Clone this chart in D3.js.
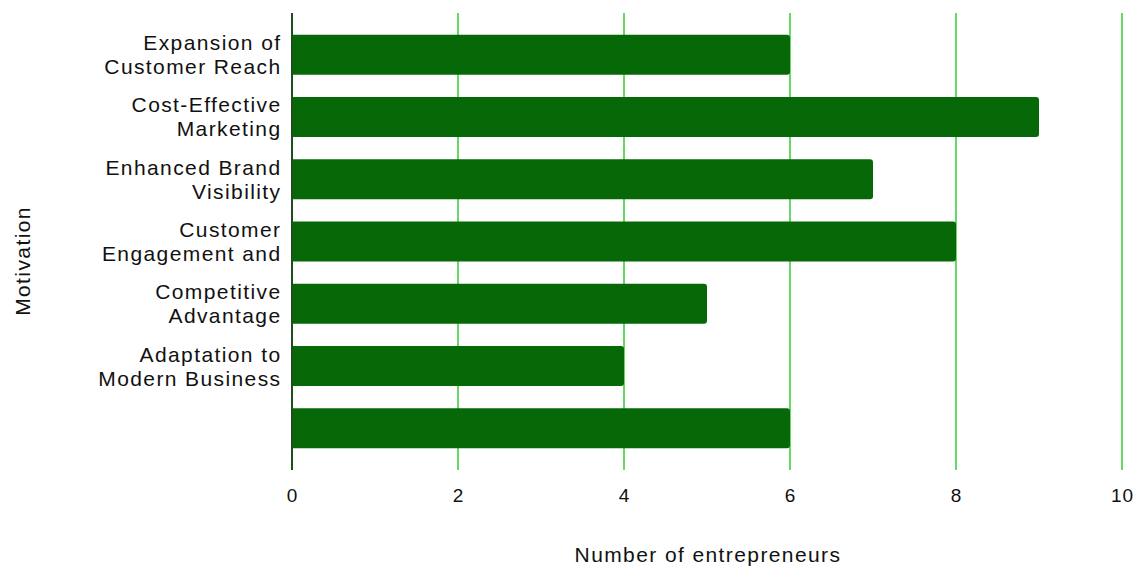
<!DOCTYPE html>
<html><head><meta charset="utf-8">
<script src="https://cdn.jsdelivr.net/npm/d3@7"></script>
<style>body{margin:0;background:#fff;} text{font-family:"Liberation Sans",Arial,sans-serif;}</style>
</head><body>
<svg id="c" width="1137" height="567"></svg>
<script>
const categories = [
  ["Expansion of", "Customer Reach"],
  ["Cost-Effective", "Marketing"],
  ["Enhanced Brand", "Visibility"],
  ["Customer", "Engagement and"],
  ["Competitive", "Advantage"],
  ["Adaptation to", "Modern Business"],
  [""]
];
const values = [6, 9, 7, 8, 5, 4, 6];
const xTicks = [0, 2, 4, 6, 8, 10];

const svg = d3.select("#c");
const m = {left: 292, right: 1122, top: 13, bottom: 470};
const x = d3.scaleLinear().domain([0, 10]).range([m.left, m.right]);
const y = d3.scaleBand().domain(d3.range(values.length)).range([m.top, m.bottom]).paddingInner(0.36).paddingOuter(0.35);
const LS = "1.4px";

// grid
svg.append("g").selectAll("line").data(xTicks.filter(t => t > 0)).join("line")
  .attr("x1", d => x(d)).attr("x2", d => x(d))
  .attr("y1", m.top).attr("y2", m.bottom)
  .attr("stroke", "#66d866").attr("stroke-width", 2);

// bars with rounded right corners
const r = 3;
svg.append("g").selectAll("path").data(values).join("path")
  .attr("d", (d, i) => {
    const x0 = x(0), x1 = x(d), y0 = y(i), h = y.bandwidth();
    return `M${x0},${y0}H${x1 - r}Q${x1},${y0} ${x1},${y0 + r}V${y0 + h - r}Q${x1},${y0 + h} ${x1 - r},${y0 + h}H${x0}Z`;
  })
  .attr("fill", "#076807");

// y axis line
svg.append("line").attr("x1", x(0)).attr("x2", x(0)).attr("y1", m.top).attr("y2", m.bottom)
  .attr("stroke", "#1f4d1f").attr("stroke-width", 2);

// x axis tick labels
const xAxis = d3.axisBottom(x).tickValues(xTicks).tickSize(0).tickPadding(0);
const gx = svg.append("g").attr("transform", `translate(0,${m.bottom})`).call(xAxis);
gx.select(".domain").remove();
gx.selectAll("text").attr("font-size", 19).attr("fill", "#111").attr("dy", null).attr("y", 32)
  .style("font-family", "'Liberation Sans',Arial,sans-serif").style("letter-spacing", "1px");

// y labels
const lh = 24;
categories.forEach((lines, i) => {
  const cy = y(i) + y.bandwidth() / 2;
  const t = svg.append("text").attr("text-anchor", "end").attr("font-size", 21).attr("fill", "#111")
    .style("letter-spacing", LS);
  lines.forEach((ln, k) => {
    t.append("tspan").attr("x", 281.5).attr("y", cy - (lines.length - 1) * lh / 2 + k * lh + 7.5).text(ln);
  });
});

// axis titles
svg.append("text").attr("x", x(5) + 1).attr("y", 562).attr("text-anchor", "middle")
  .attr("font-size", 21).attr("fill", "#111").style("letter-spacing", LS).text("Number of entrepreneurs");
svg.append("text").attr("transform", `translate(30,261) rotate(-90)`)
  .attr("text-anchor", "middle").attr("font-size", 21).attr("fill", "#111").style("letter-spacing", LS).text("Motivation");
</script>
</body></html>
